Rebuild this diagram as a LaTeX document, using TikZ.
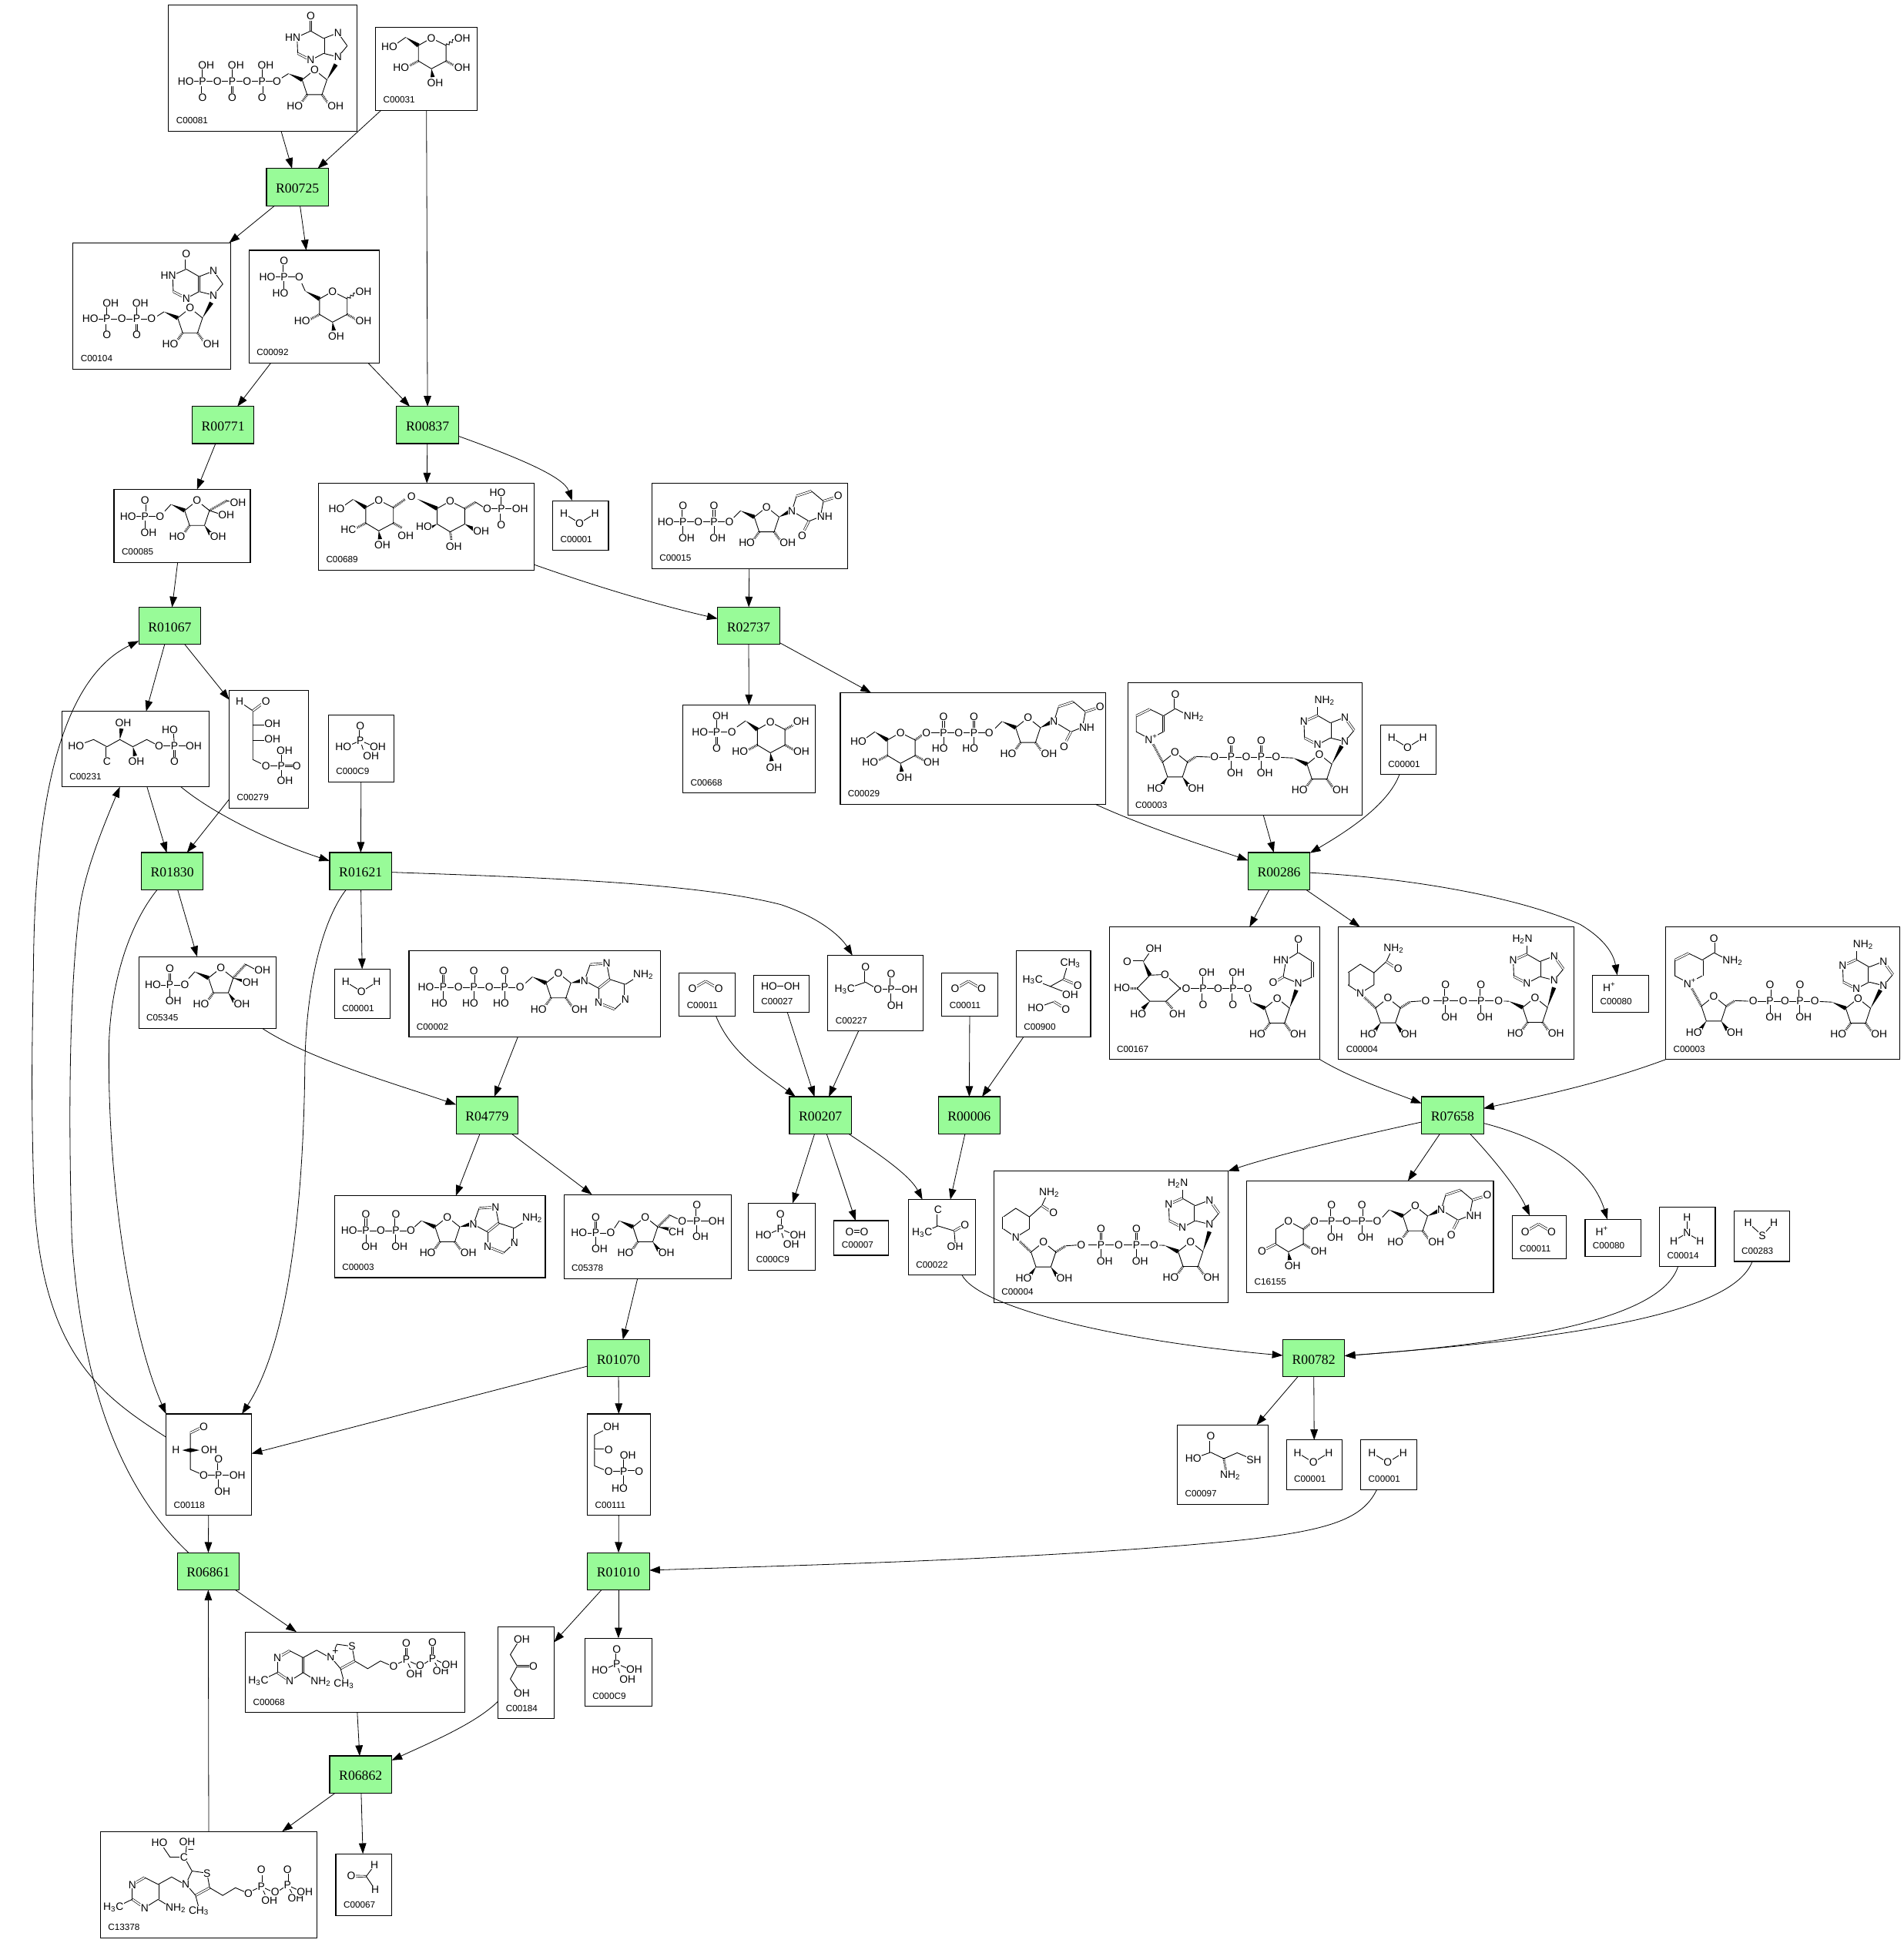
\documentclass[tikz,border=0pt]{standalone}
\usepackage{fontspec}
\usetikzlibrary{arrows.meta,calc,decorations.pathmorphing}
\newfontfamily\atomfont{Liberation Sans}
\newfontfamily\rxnfont{Liberation Serif}
\definecolor{rgreen}{HTML}{98FB98}
\newcounter{atomno}
\def\textO{O}\def\textOH{OH}\def\textHO{HO}
\def\hexlx{-24.5}\def\hexly{24}\def\hexrx{25}\def\hexry{24}
\newcommand\sub[1]{\textsubscript{#1}}
\newcommand\atoms[1]{\foreach \txt/\x/\y in {#1}{\stepcounter{atomno}\node[atom] (a\theatomno) at (\x,\y) {\txt};}}
\newcommand\wdg[2]{\fill (#1) -- ($(#2)!1.7pt!90:(#1)$) -- ($(#2)!1.7pt!-90:(#1)$) -- cycle;}
\newcommand\hsh[2]{\draw[hashb] (#1)--(#2);}
\newcommand\wvy[2]{\draw[bond,decorate,decoration={snake,amplitude=1,segment length=3}] (#1)--(#2);}
\newcommand\phosarm[2]{\def\armt{#1}\def\armx{0}\ifx\armt\textO\draw[dbl] (0,#2*4)--(0,#2*10);\else\draw[bond] (0,0)--(0,#2*10);\fi
  \ifx\armt\textOH\def\armx{3}\fi\ifx\armt\textHO\def\armx{-3}\fi\atoms{#1/\armx/#2*13}}
\newcommand\cpd[6]{\node[cpdbox,minimum width={#4-#2},minimum height={#5-#3}] (#1) at ({(#2+#4)/2},{(#3+#5)/2}) {};
  \node[cpdtag] (#1t) at (#2+6,#5-8.5) {#6};}
\newcommand\mol[2]{\begin{scope}[shift={(#1)}]#2\end{scope}}
\tikzset{
  bond/.style={line width=.55pt},
  dbl/.style={double,double distance=1.1pt,line width=.4pt},
  hashb/.style={line width=1.9pt,dash pattern=on .45pt off .75pt},
  atom/.style={inner sep=.3pt,fill=white,font=\atomfont\fontsize{8.6}{9}\selectfont},
  cpdbox/.style={draw,line width=.7pt,inner sep=0pt,outer sep=0pt},
  cpdtag/.style={anchor=west,inner sep=0pt,font=\atomfont\fontsize{7.3}{8}\selectfont},
  rxn/.style={draw,fill=rgreen,line width=.7pt,minimum width=50,minimum height=30,inner sep=0pt,outer sep=0pt,text height=11.5pt,text depth=2pt,font=\rxnfont\fontsize{11}{12}\selectfont},
  rlink/.style={->,line width=.5pt},
  pics/phos/.style 2 args={code={
    \draw[bond] (-10,0)--(10,0);
    \phosarm{#1}{-1}\phosarm{#2}{1}
    \atoms{P/0/0}}},
  pics/pchain/.style n args={5}{code={
    \foreach \i in {1,...,#1}{
      \pgfmathsetmacro\px{-#5*(\i-.5)}\pgfmathsetmacro\ox{-#5*(\i-1)}
      \pic at (\px,0) {phos={#2}{#3}};
      \atoms{O/\ox/0}}
    \pgfmathsetmacro\lx{-#5*(#1-.5)-#5*.56}
    \atoms{#4/\lx/0}}},
  pics/ringf/.style 2 args={code={
    \draw[bond] (0,0)--(-10,8)--(-6,20)--(6,20)--(10,8)--cycle;
    #1{-6,20}{-11,27}#2{6,20}{11,27}
    \atoms{O/0/0,HO/-16/29,OH/17/29}}},
  pics/ribose/.style n args={3}{code={
    \pic at (0,0) {ringf={#1}{#2}};
    \draw[bond] (-21,3)--(#3);
    \wdg{-21,3}{-10,8}}},
  pics/hexose/.style n args={4}{code={
    \draw[bond] (0,0)--(-10.5,6)--(-10.5,18.5)--(0,24.8)--(11.8,18.5)--(11.8,6)--cycle;
    #1{-10.5,18.5}{-18,22.5}#2{0,24.8}{1,31.5}#3{11.8,18.5}{19,22.5}
    \atoms{O/0/0,#4/\hexlx/\hexly,OH/3/36.5,OH/\hexrx/\hexry}}},
  pics/hexcap/.style={code={
    \draw[bond] (-20.7,-.6)--(-28,4.5);
    \wdg{-20.7,-.6}{-10.5,6}
    \atoms{HO/-34/7}}},
  pics/hypox/.style={code={
    \draw[bond] (-11.6,-15)--(-22,-21)--(-33,-16)--(-32.5,-2.9);
    \draw[bond] (-22,2.6)--(-11.6,-2.9)--(0,0);
    \draw[bond] (7.5,-9)--(0,-19.5);\draw[bond] (0,0)--(7.5,-9);\draw[bond] (0,-19.5)--(-11.6,-15);
    \draw[dbl] (-11.6,-2.9)--(-11.6,-15);\draw[dbl] (-32.5,-2.9)--(-22,2.6);\draw[dbl] (-22,-21)--(-22,-29);
    \atoms{N/0/0,N/0/-19.5,N/-22/2.6,HN/-36.5/-16,O/-22/-33}}},
  pics/adenine/.style 2 args={code={
    \draw[bond] (-11.6,-15)--(-22,-21);\draw[bond] (-33,-16)--(-32.5,-2.9);
    \draw[bond] (-22,2.6)--(-11.6,-2.9)--(0,0)--(7.5,-9);\draw[bond] (0,-19.5)--(-11.6,-15);\draw[bond] (-22,-21)--(-22,-28);
    \draw[dbl] (-11.6,-2.9)--(-11.6,-15);\draw[dbl] (-32.5,-2.9)--(-22,2.6);\draw[dbl] (-22,-21)--(-33,-16);\draw[dbl] (7.5,-9)--(0,-19.5);
    \atoms{N/0/0,N/0/-19.5,N/-22/2.6,N/-33/-16,#1/#2/-33}}},
  pics/adenineb/.style={code={
    \draw[bond] (0,0)--(4.6,-13);\draw[dbl] (4.6,-13)--(17.9,-13.9);\draw[bond] (17.9,-13.9)--(20.4,-1);
    \draw[dbl] (20.4,-1)--(11.4,6.2);\draw[bond] (11.4,6.2)--(0,0);\draw[bond] (20.4,-1)--(33,3.1);
    \draw[dbl] (33,3.1)--(33,15.1);\draw[bond] (33,15.1)--(24.3,23.2);\draw[dbl] (24.3,23.2)--(11.4,18);
    \draw[bond] (11.4,18)--(11.4,6.2);\draw[bond] (33,3.1)--(41,-2);
    \atoms{N/0/0,N/17.9/-13.9,N/33/15.1,N/11.4/18,NH\sub{2}/47.5/-4.8}}},
  pics/uracil/.style={code={
    \draw[bond] (0,0)--(3.7,-12);\draw[dbl] (3.7,-12)--(15.7,-16);\draw[bond] (15.7,-16)--(25.4,-7.9)--(23,4.6)--(13.7,8.3)--(0,0);
    \draw[dbl] (25.4,-7.9)--(33.5,-10.5);\draw[dbl] (13.7,8.3)--(10,15.5);
    \atoms{N/0/0,O/37.3/-12,NH/26.5/4.6,O/8.2/20.3}}},
  pics/nad/.style={code={
    \pic at (0,0) {ringf={\wdg}{\wdg}};
    \hsh{-10,8}{-18,-7}\hsh{10,8}{17,3.5}\draw[bond] (17,3.5)--(29,4);
    \mol{-20.3,-10.7}{
      \draw[bond] (0,0)--(11,-5.8);\draw[dbl] (11,-5.8)--(11,-18.6);\draw[bond] (11,-18.6)--(0,-24);\draw[dbl] (0,-24)--(-11,-18.6);
      \draw[bond] (-11,-18.6)--(-11,-5.8)--(0,0);\draw[bond] (11,-18.6)--(20.5,-24.4)--(29,-20);\draw[dbl] (20.5,-24.4)--(20.5,-33);
      \atoms{N\textsuperscript{+}/1/0,O/20.5/-36,NH\sub{2}/35.5/-17.7}}
    \pic at (81.6,4) {pchain={2}{O}{OH}{O}{24.15}};
    \pic at (116.5,1.7) {ribose={\hsh}{\hsh}{-31,2.5}};
    \wdg{126.5,9.7}{134.5,-5}
    \pic at (137,-8.6) {adenine={NH\sub{2}}{-16.4}};}},
  pics/nadh/.style={code={
    \pic at (0,0) {ringf={\wdg}{\wdg}};
    \hsh{-10,8}{-19,-.5}\hsh{10,8}{18,3}\draw[bond] (18,3)--(28,2.3);
    \mol{-22.3,-3.9}{
      \draw[bond] (0,0)--(11,-6.8)--(11,-16.5)--(0,-23.4)--(-10,-16.5);\draw[dbl] (-10,-16.5)--(-10,-6.8);\draw[bond] (-10,-6.8)--(0,0);
      \draw[bond] (11,-16.5)--(21,-25.5)--(24,-32);\draw[dbl] (21,-25.5)--(27,-21.5);
      \atoms{N/0/0,O/30.5/-19.9,NH\sub{2}/27/-36}}
    \pic at (89.4,2.3) {pchain={2}{O}{OH}{O}{28.6}};
    \pic at (118.7,-.4) {ribose={\hsh}{\hsh}{-25.2,2.9}};
    \wdg{128.7,7.6}{134,-8.5}
    \pic at (134.1,-14.4) {adenine={H\sub{2}N}{-25.6}};}},
  pics/tpp/.style={code={
    \draw[dbl] (25.8,20.9)--(35.7,15.1);\draw[bond] (35.7,15.1)--(46.6,20.7);\draw[dbl] (46.6,20.7)--(46.6,32.8);\draw[bond] (46.6,32.8)--(35.7,39.6);
    \draw[dbl] (35.7,39.6)--(25.8,32.7);\draw[bond] (25.8,32.7)--(25.8,20.9);\draw[bond] (25.8,32.7)--(16,37.5);\draw[bond] (46.6,32.8)--(55,38);
    \draw[bond] (46.6,20.7)--(57.5,14.7)--(66,19.5);
    \draw[bond] (68.9,20.3)--(74,9.9)--(86,11.6)--(88.2,23.4);\draw[dbl] (88.2,23.4)--(76.8,29.6);\draw[bond] (76.8,29.6)--(68.9,20.3);\draw[bond] (76.8,29.6)--(79,38);
    \draw[bond] (88.2,23.4)--(98.7,29.6)--(109,23.4)--(116,26.5);\draw[bond] (122,26)--(129.8,22.4)--(133,29);\draw[dbl] (129.8,22.4)--(129.8,13);
    \draw[bond] (129.8,22.4)--(137.5,26);\draw[bond] (144.5,25.5)--(151,21.3)--(154.5,27.5);\draw[dbl] (151,21.3)--(151,12);\draw[bond] (151,21.3)--(160,25.5);
    \atoms{N/25.8/20.9,N/35.7/39.6,H\sub{3}C/10.5/39.4,NH\sub{2}/60.8/40,N/68.9/20.3,S/86/11.6,CH\sub{3}/79.4/42,O/119.5/28,P/129.8/22.4,O/129.8/8.9,OH/136.3/33.8,O/141/27.1,P/151/21.3,O/151/8.5,OH/157.7/31.7,OH/165/26.5}}},
  pics/water/.style={code={
    \draw[bond] (9,10.4)--(21.7,18.2)--(34.2,10.4);
    \atoms{H/9/10.4,O/21.7/18.2,H/34.2/10.4}}},
  pics/carbdi/.style={code={
    \draw[dbl] (10.7,13)--(21.4,6.8);\draw[dbl] (21.4,6.8)--(32,13);
    \atoms{O/10.7/13,O/32/13}}},
  pics/phosac/.style={code={
    \draw[dbl] (25.7,20.7)--(25.7,12);\draw[bond] (25.7,20.7)--(17,24.5);\draw[bond] (25.7,20.7)--(33.5,24);\draw[bond] (25.7,20.7)--(28,28);
    \atoms{O/25.7/8.9,P/25.7/20.7,HO/12/25.9,OH/39.8/25.5,OH/34.4/33.1}}},
}
\begin{document}
\begin{tikzpicture}[x=1pt,y=-1pt,>={Triangle[length=8.5pt,width=6pt]}]
\useasboundingbox (0,0) rectangle (1536,1568);
\foreach \rid/\x/\y in {00725/240/151,00771/180/343,00837/345/343,01067/137/505,02737/604/505,01830/139/703,01621/291/703,00286/1032/703,04779/393/900,00207/662/900,00006/782/900,07658/1172/900,01070/499/1096,00782/1060/1096,06861/168/1268,01010/499/1268,06862/291/1432}
  \node[rxn] (r\rid) at (\x,\y) {R\rid};
\cpd{c00081}{136}{4}{288}{106}{C00081}
\cpd{c00031}{303}{22}{385}{89}{C00031}
\cpd{c00104}{59}{196}{186}{298}{C00104}
\cpd{c00092}{201}{202}{306}{293}{C00092}
\cpd{c00085}{92}{395}{202}{454}{C00085}
\cpd{c00689}{257}{390}{431}{460}{C00689}
\cpd{c00001a}{446}{404}{491}{444}{C00001}
\cpd{c00015}{526}{390}{684}{459}{C00015}
\cpd{c00231}{50}{574}{169}{635}{C00231}
\cpd{c00279}{185}{557}{249}{652}{C00279}
\cpd{c00009a}{265}{577}{318}{631}{C000C9}
\cpd{c00668}{551}{569}{658}{640}{C00668}
\cpd{c00029}{678}{559}{892}{649}{C00029}
\cpd{c00003a}{910}{551}{1099}{658}{C00003}
\cpd{c00001b}{1114}{585}{1159}{625}{C00001}
\cpd{c05345}{112}{772}{223}{830}{C05345}
\cpd{c00001c}{270}{782}{315}{822}{C00001}
\cpd{c00002}{330}{767}{533}{837}{C00002}
\cpd{c00011a}{548}{785}{593}{820}{C00011}
\cpd{c00027}{608}{787}{653}{817}{C00027}
\cpd{c00227}{668}{771}{745}{832}{C00227}
\cpd{c00011b}{760}{785}{805}{820}{C00011}
\cpd{c00900}{820}{767}{880}{837}{C00900}
\cpd{c00167}{895}{748}{1065}{855}{C00167}
\cpd{c00004a}{1080}{748}{1270}{855}{C00004}
\cpd{c00080a}{1285}{787}{1330}{817}{C00080}
\cpd{c00003c}{1344}{748}{1533}{855}{C00003}
\cpd{c00003b}{270}{965}{440}{1031}{C00003}
\cpd{c05378}{455}{964}{590}{1032}{C05378}
\cpd{c00009b}{604}{971}{658}{1025}{C000C9}
\cpd{c00007}{673}{985}{717}{1013}{C00007}
\cpd{c00022}{733}{968}{787}{1029}{C00022}
\cpd{c00004b}{802}{945}{991}{1051}{C00004}
\cpd{c16155}{1006}{953}{1205}{1043}{C16155}
\cpd{c00011c}{1220}{981}{1264}{1016}{C00011}
\cpd{c00080b}{1279}{984}{1324}{1014}{C00080}
\cpd{c00014}{1339}{974}{1384}{1022}{C00014}
\cpd{c00283}{1399}{977}{1444}{1018}{C00283}
\cpd{c00118}{134}{1141}{203}{1223}{C00118}
\cpd{c00111}{474}{1141}{525}{1223}{C00111}
\cpd{c00097}{950}{1150}{1023}{1214}{C00097}
\cpd{c00001d}{1038}{1162}{1083}{1202}{C00001}
\cpd{c00001e}{1098}{1162}{1143}{1202}{C00001}
\cpd{c00068}{198}{1317}{375}{1382}{C00068}
\cpd{c00184}{402}{1313}{447}{1387}{C00184}
\cpd{c00009c}{472}{1322}{526}{1377}{C000C9}
\cpd{c13378}{81}{1478}{256}{1564}{C13378}
\cpd{c00067}{271}{1496}{316}{1546}{C00067}
% nucleotide sugars and phosphates
\pic at (223.4,65.5) {pchain={3}{OH}{O}{HO}{24}};
\pic at (253.8,56.4) {ribose={\hsh}{\hsh}{-26.5,6.5}};
\wdg{263.8,64.4}{271,52}
\pic at (272.7,46) {hypox};
\pic at (122.3,257.4) {pchain={2}{OH}{O}{HO}{24}};
\pic at (153.4,248.6) {ribose={\hsh}{\hsh}{-26.5,6.5}};
\wdg{163.4,256.6}{170.6,244.2}
\pic at (172.3,238.2) {hypox};
\mol{348.1,30.7}{\pic at (0,0) {hexose={\hsh}{\wdg}{\hsh}{HO}};\pic at (0,0) {hexcap};\wvy{11.8,6}{19,1}\atoms{OH/25/0}}
\pic at (241.4,223.4) {pchain={1}{O}{HO}{HO}{24.3}};
\mol{268.3,235.2}{\pic at (0,0) {hexose={\hsh}{\wdg}{\hsh}{HO}};\wdg{-22,-.3}{-10.5,6}\draw[bond] (-22,-.3)--(-24.8,-6.5);\wvy{11.8,6}{19,1}\atoms{OH/25/0}}
\pic at (129.1,416.8) {pchain={1}{O}{OH}{HO}{24.3}};
\mol{159,404}{\pic at (0,0) {ribose={\hsh}{\wdg}{-26,8.5}};\hsh{10,8}{24,0}\draw[bond] (24,0)--(29,1.5);\draw[bond] (10,8)--(19,11);\atoms{OH/33/1.7,OH/23.6/11.9}}
\pic at (149.2,794.9) {pchain={1}{O}{OH}{HO}{24.3}};
\mol{178.2,781.2}{\pic at (0,0) {ribose={\hsh}{\wdg}{-26,8.5}};\hsh{10,8}{20,-3}\draw[bond] (20,-3)--(27.5,1);\wdg{10,8}{20,11}\atoms{OH/33.6/1.7,OH/23.9/11.8}}
\pic at (492.9,995.1) {pchain={1}{O}{OH}{HO}{24.3}};
\mol{520.7,982.1}{\pic at (0,0) {ribose={\hsh}{\wdg}{-25,9}};\hsh{10,8}{19.8,-1.5}\draw[bond] (19.8,-1.5)--(26,1.5);\wdg{10,8}{20.5,10}\pic at (41.6,3.1) {phos={O}{OH}};\atoms{O/29.7/3.1,OH/57.5/3.1,CH/25/11.8}}
\mol{305.6,403.6}{\def\hexrx{21.7}\def\hexry{29}\pic at (0,0) {hexose={\hsh}{\wdg}{\hsh}{HC}};\pic at (0,0) {hexcap};\hsh{11.8,6}{21,-.5}\atoms{O/26.4/-2.7}\wdg{31,-1}{47,6.8}}
\mol{363.2,404.4}{\def\hexlx{-21}\def\hexly{20.8}\pic at (0,0) {hexose={\wdg}{\hsh}{\wdg}{HO}};\hsh{11.8,6}{20.5,.8}\draw[bond] (20.5,.8)--(27,5);\pic at (41.3,6.2) {phos={HO}{O}};\atoms{O/29.9/6.2,OH/56.5/6.2}}
\pic at (588.6,421) {pchain={2}{O}{OH}{HO}{25}};
\pic at (618.6,409.2) {ribose={\hsh}{\hsh}{-26.5,8.5}};
\wdg{628.6,417.2}{637,413}
\pic at (639,412.3) {uracil};
\pic at (590.5,590.6) {pchain={1}{OH}{O}{HO}{24.3}};
\mol{621.6,582.7}{\pic at (0,0) {hexose={\hsh}{\wdg}{\hsh}{HO}};\wdg{-20,-1}{-10.5,6}\draw[bond] (-20,-1)--(-27,4);\hsh{11.8,6}{19,2}\atoms{OH/24.9/-.4}}
\mol{726.6,591.2}{\pic at (0,0) {hexose={\hsh}{\wdg}{\hsh}{HO}};\pic at (0,0) {hexcap};\hsh{11.8,6}{18,1.5}}
\pic at (798.2,591.2) {pchain={2}{O}{HO}{O}{24.6}};
\pic at (829.5,579.2) {ribose={\hsh}{\hsh}{-26.5,8.5}};
\wdg{839.5,587.2}{848,583}
\pic at (850.4,582.3) {uracil};
\pic at (948.1,607) {nad};
\pic at (1382.8,804) {nad};
\pic at (1119.9,805.4) {nadh};
\pic at (841.9,1002.4) {nadh};
\pic at (419.6,796.7) {pchain={3}{O}{HO}{HO}{24.8}};
\pic at (450.6,785.3) {ribose={\hsh}{\hsh}{-26.5,8}};
\wdg{460.6,793.3}{469,791.5}
\pic at (471.6,791.3) {adenineb};
\pic at (331.5,993.1) {pchain={2}{O}{OH}{HO}{24.2}};
\pic at (361,982.1) {ribose={\hsh}{\hsh}{-26.5,8}};
\wdg{371,990.1}{379.5,988}
\pic at (382,988) {adenineb};
% glucuronate sugar of the uridine compound
\draw[bond] (927.8,787)--(940,786.4)--(952.3,797.6)--(940.8,808)--(927.8,808)--(917.5,797.6)--cycle;
\draw[dbl] (922.5,776)--(914,776);\draw[bond] (922.5,776)--(927,769.5);
\wdg{922.5,776}{927.8,787}\hsh{917.5,797.6}{911,797.6}\hsh{952.3,797.6}{955.5,797.6}\wdg{927.8,808}{922,814}\hsh{940.8,808}{946,814}
\atoms{O/940/786.4,O/909.6/776,OH/931/765.2,HO/905.4/797,HO/918.4/818.5,OH/950/818.5}
\pic at (1007,797.6) {pchain={2}{OH}{O}{O}{24.2}};
\pic at (1030.5,805.6) {ribose={\hsh}{\hsh}{-22.5,-3.5}};
\wdg{1040.5,813.6}{1046,799}
\mol{1047.6,793.6}{
  \draw[bond] (0,0)--(11.4,-5.2);\draw[dbl] (11.4,-5.2)--(11.4,-17.6);\draw[bond] (11.4,-17.6)--(0,-24.9)--(-10,-18.6)--(-12.2,-5.2)--(0,0);
  \draw[dbl] (0,-24.9)--(0,-32);\draw[dbl] (-12.2,-5.2)--(-17.5,-2);
  \atoms{N/0/0,O/0/-35.6,HN/-14/-18.6,O/-20.3/-1}}
\mol{1039.6,985.3}{
  \draw[bond] (0,0)--(-10.2,6.6)--(-10.2,18.6)--(0,24.9)--(12,18.6)--(12,6.6)--cycle;
  \draw[dbl] (-10.2,18.6)--(-18,22.5);\wdg{0,24.9}{1,31.5}\hsh{12,18.6}{19,22.5}\hsh{12,6.6}{18,2}
  \atoms{O/0/0,O/-21.3/24.4,OH/3.4/36.3,OH/24.5/24.4}
  \pic at (71.6,0) {pchain={2}{O}{OH}{O}{24.6}};
  \pic at (102.3,-12) {ribose={\hsh}{\hsh}{-26.5,9}};
  \wdg{112.3,-4}{121,-8}
  \pic at (123.2,-9) {uracil};}
% small compounds, placed from the corner of their box
\mol{446,404}{\pic at (0,0) {water};}
\mol{1114,585}{\pic at (0,0) {water};}
\mol{270,782}{\pic at (0,0) {water};}
\mol{1038,1162}{\pic at (0,0) {water};}
\mol{1098,1162}{\pic at (0,0) {water};}
\mol{548,785}{\pic at (0,0) {carbdi};}
\mol{760,785}{\pic at (0,0) {carbdi};}
\mol{1220,981}{\pic at (0,0) {carbdi};}
\mol{265,577}{\pic at (0,0) {phosac};}
\mol{604,971}{\pic at (0,0) {phosac};}
\mol{472,1322}{\pic at (0,0) {phosac};}
\mol{608,787}{\draw[bond] (12.5,8.9)--(31,8.9);\atoms{HO/12.5/8.9,OH/31/8.9}}
\mol{668,771}{
  \draw[bond] (13.6,27.4)--(30.4,21.6)--(40.4,27.4);\draw[dbl] (30.4,21.6)--(30.4,12.5);\draw[bond] (40.4,27.4)--(66,27.4);\draw[bond] (51,27.4)--(51,38);\draw[dbl] (51,27.4)--(51,18);
  \atoms{H\sub{3}C/13.6/27.4,O/30.4/9.1,O/40.4/27.4,P/51/27.4,O/51/14.7,OH/66/27.4,OH/54.3/40.2}}
\mol{820,767}{
  \draw[bond] (13.2,23.6)--(27.5,29)--(38,23.2)--(41,13);\draw[bond] (27.5,29)--(40,34);\draw[dbl] (38,23.2)--(47,27);\draw[bond] (15.7,46.6)--(30.4,41.3);\draw[dbl] (30.4,41.3)--(38,46);
  \atoms{CH\sub{3}/43.6/10.2,H\sub{3}C/13.2/23.6,O/49.6/28.4,OH/43.6/36,HO/15.7/46.6,O/40/47.5}}
\mol{673,985}{\draw[bond] (12.5,8)--(24.3,8);\draw[bond] (12.5,9.8)--(24.3,9.8);\atoms{O/12.5/8.9,O/24.3/8.9}}
\mol{733,968}{
  \draw[dbl] (23.8,12)--(23.8,21.3);\draw[bond] (11,27)--(23.8,21.3)--(36.9,25.3)--(37.7,35);\draw[dbl] (36.9,25.3)--(43.5,21.5);
  \atoms{C/23.8/8.3,H\sub{3}C/11/27,O/45.6/20.3,OH/37.7/38.3}}
\mol{1285,787}{\atoms{H\textsuperscript{+}/13.5/9.7}}
\mol{1279,984}{\atoms{H\textsuperscript{+}/13.5/9.7}}
\mol{1339,974}{\draw[bond] (22.2,8.7)--(22.2,21.1);\draw[bond] (11.5,27.4)--(22.2,21.1)--(32.8,27.4);\atoms{H/22.2/8.7,N/22.2/21.1,H/11.5/27.4,H/32.8/27.4}}
\mol{1399,977}{\draw[bond] (11.5,9.7)--(23,20.1)--(32.4,9.7);\atoms{H/11.5/9.7,S/23/20.1,H/32.4/9.7}}
\mol{950,1150}{
  \draw[dbl] (26.9,12.5)--(26.9,22);\draw[bond] (12.8,27.1)--(26.9,22)--(37.5,27.1)--(48.2,22.4)--(61.8,28.2);\hsh{37.5,27.1}{39,36}
  \atoms{O/26.9/9.1,HO/12.8/27.1,SH/61.8/28.2,NH\sub{2}/42.6/40.6}}
\mol{134,1141}{
  \draw[bond] (19.6,15.3)--(19.6,44.8)--(30.4,49.5);\draw[dbl] (19.6,15.3)--(27.5,11.5);\wdg{13,29.3}{19.6,29.3}\wdg{27,29.3}{19.6,29.3}
  \atoms{O/30.4/10.2,H/7.9/29.2,OH/34.8/29.2}
  \pic at (42.4,49.5) {phos={O}{OH}};\atoms{O/30.4/49.5,OH/57.6/49.5}}
\mol{474,1141}{
  \draw[bond] (19.3,10.2)--(5.7,17)--(5.7,41.9)--(17.1,46.6);\draw[dbl] (5.7,29)--(14,29);\draw[bond] (17.1,46.6)--(38,46.6);\draw[dbl] (29.3,46.6)--(38,46.6);\draw[bond] (29.3,46.6)--(29.3,36.5);\draw[bond] (29.3,46.6)--(29.3,57);
  \atoms{OH/19.3/10.2,O/17.1/29,O/17.1/46.6,P/29.3/46.6,O/41.6/46.6,OH/32.6/33.6,HO/26/59.9}}
\mol{50,574}{
  \draw[bond] (11.4,28)--(25.5,22.8)--(36.3,28.6)--(46.7,22.8)--(57.2,28.6)--(68.4,22.8)--(78.3,28);\draw[dbl] (36.3,28.6)--(36.3,37);
  \wdg{46.7,22.8}{48,14}\wdg{57.2,28.6}{59,36}\draw[bond] (78.3,28)--(106,28);\draw[dbl] (90.8,28)--(90.8,37);\draw[bond] (90.8,28)--(90,18);
  \atoms{HO/11.4/28,C/36.3/40.4,OH/49.4/9.3,OH/60/40.4,O/78.3/28,P/90.8/28,HO/87/14.9,OH/106.3/28,O/90.8/40.4}}
\mol{185,557}{
  \draw[bond] (8.3,9.3)--(19,16.6)--(19,56)--(29.6,61.1);\draw[dbl] (19,16.6)--(26.5,11);\draw[bond] (19,28)--(29,28);\draw[bond] (19,40.4)--(29,40.4);
  \draw[bond] (29.6,61.1)--(42,61.1)--(42,51);\draw[bond] (42,61.1)--(42,70);\draw[dbl] (42,61.1)--(51,61.1);
  \atoms{H/8.3/9.3,O/29.6/9.3,OH/34.8/26.9,OH/34.8/39.4,O/29.6/61.1,P/42/61.1,O/54.5/61.1,OH/44.6/48.7,OH/45/72.9}}
\mol{402,1313}{
  \draw[bond] (15.5,13)--(9.8,22.2)--(15.3,31.5)--(9.8,41.9)--(15.5,50);\draw[dbl] (15.3,31.5)--(25,31.5);
  \atoms{OH/19/9.7,O/28.4/31.5,OH/19/53.3}}
\mol{271,1496}{
  \draw[dbl] (15.5,18)--(24.5,18.2);\draw[bond] (31.1,9.3)--(24.5,18.2)--(31.8,29.2);
  \atoms{O/12.4/17.8,H/31.1/9.3,H/31.8/29.2}}
\mol{198,1317}{\pic at (0,0) {tpp};\atoms{+/72.6/15.5}}
\mol{81,1478}{
  \draw[bond] (73.8,31.7)--(69.5,24);\draw[bond] (69,17)--(69.5,11.5);\draw[bond] (64.5,20.7)--(56.2,20.7)--(51,13);
  \pic at (0,22) {tpp};
  \atoms{C/67.5/20.7,OH/70/8.3,{\textminus}/73/16,HO/47.7/9.3}}
% reaction links, straight ones first
\foreach \a/\b in {c00081/r00725,c00031/r00725,c00031/r00837,r00725/c00104,r00725/c00092,c00092/r00771,c00092/r00837,r00771/c00085,r00837/c00689,c00085/r01067,c00015/r02737,r02737/c00668,r02737/c00029,r01067/c00231,r01067/c00279,c00231/r01830,c00279/r01830,c00009a/r01621,r01621/c00001c,r01830/c05345,c00002/r04779,r04779/c00003b,r04779/c05378,c00027/r00207,c00227/r00207,c00011b/r00006,c00900/r00006,r00207/c00009b,r00207/c00007,r00006/c00022,r07658/c16155,c00003a/r00286,r00286/c00167,r00286/c00004a,c00118/r06861,c13378/r06861,r06861/c00068,c00068/r06862,r06862/c13378,r06862/c00067,r01070/c00118,r01070/c00111,c05378/r01070,c00111/r01010,r01010/c00184,r01010/c00009c,r00782/c00097,r00782/c00001d}
  \draw[rlink] (\a)--(\b);
\draw[rlink] (r00837) .. controls (420,370) and (455,385) .. (c00001a);
\draw[rlink] (c00689) .. controls (480,473) and (530,488) .. (r02737);
\draw[rlink] (c00231) .. controls (170,655) and (215,678) .. (r01621);
\draw[rlink] (r01621) .. controls (262,740) and (247,790) .. (246,860) .. controls (245,960) and (235,1080) .. (c00118);
\draw[rlink] (r01830) .. controls (105,745) and (90,790) .. (88,840) .. controls (86,950) and (105,1075) .. (c00118.north west);
\draw[rlink] (c05345) .. controls (250,855) and (320,875) .. (r04779);
\draw[rlink] (c00011a) .. controls (590,850) and (615,865) .. (r00207);
\draw[rlink] (r00207) .. controls (715,935) and (735,950) .. (c00022);
\draw[rlink] (c00167.south east) .. controls (1090,870) and (1120,880) .. (r07658);
\draw[rlink] (c00003c.south west) .. controls (1290,875) and (1240,885) .. (r07658);
\draw[rlink] (r07658) .. controls (1090,918) and (1030,932) .. (c00004b.north east);
\draw[rlink] (r07658) .. controls (1205,935) and (1225,960) .. (c00011c);
\draw[rlink] (r07658) .. controls (1250,920) and (1285,945) .. (c00080b);
\draw[rlink] (c00029) .. controls (930,670) and (980,685) .. (r00286);
\draw[rlink] (c00001b) .. controls (1120,650) and (1085,672) .. (r00286);
\draw[rlink] (r00286) .. controls (1130,708) and (1220,722) .. (1275,746) .. controls (1295,758) and (1302,770) .. (c00080a);
\draw[rlink] (c00118) .. controls (80,1125) and (30,1090) .. (27,950) .. controls (25,880) and (26,840) .. (27,780) .. controls (28,660) and (45,550) .. (r01067);
\draw[rlink] (r06861) .. controls (115,1218) and (68,1150) .. (58,1000) .. controls (55,900) and (56,800) .. (64,735) .. controls (68,705) and (82,670) .. (c00231);
\draw[rlink] (c00184) .. controls (385,1390) and (350,1405) .. (r06862);
\draw[rlink] (c00001e) .. controls (1100,1225) and (1075,1235) .. (1000,1243) .. controls (850,1258) and (650,1263) .. (r01010);
\draw[rlink] (c00022) .. controls (790,1055) and (900,1082) .. (r00782);
\draw[rlink] (c00014) .. controls (1342,1060) and (1250,1082) .. (r00782);
\draw[rlink] (c00283) .. controls (1400,1055) and (1300,1078) .. (r00782);
\draw[rlink] (r01621) .. controls (430,708) and (560,712) .. (630,730) .. controls (660,740) and (678,755) .. (c00227);
\end{tikzpicture}
\end{document}
